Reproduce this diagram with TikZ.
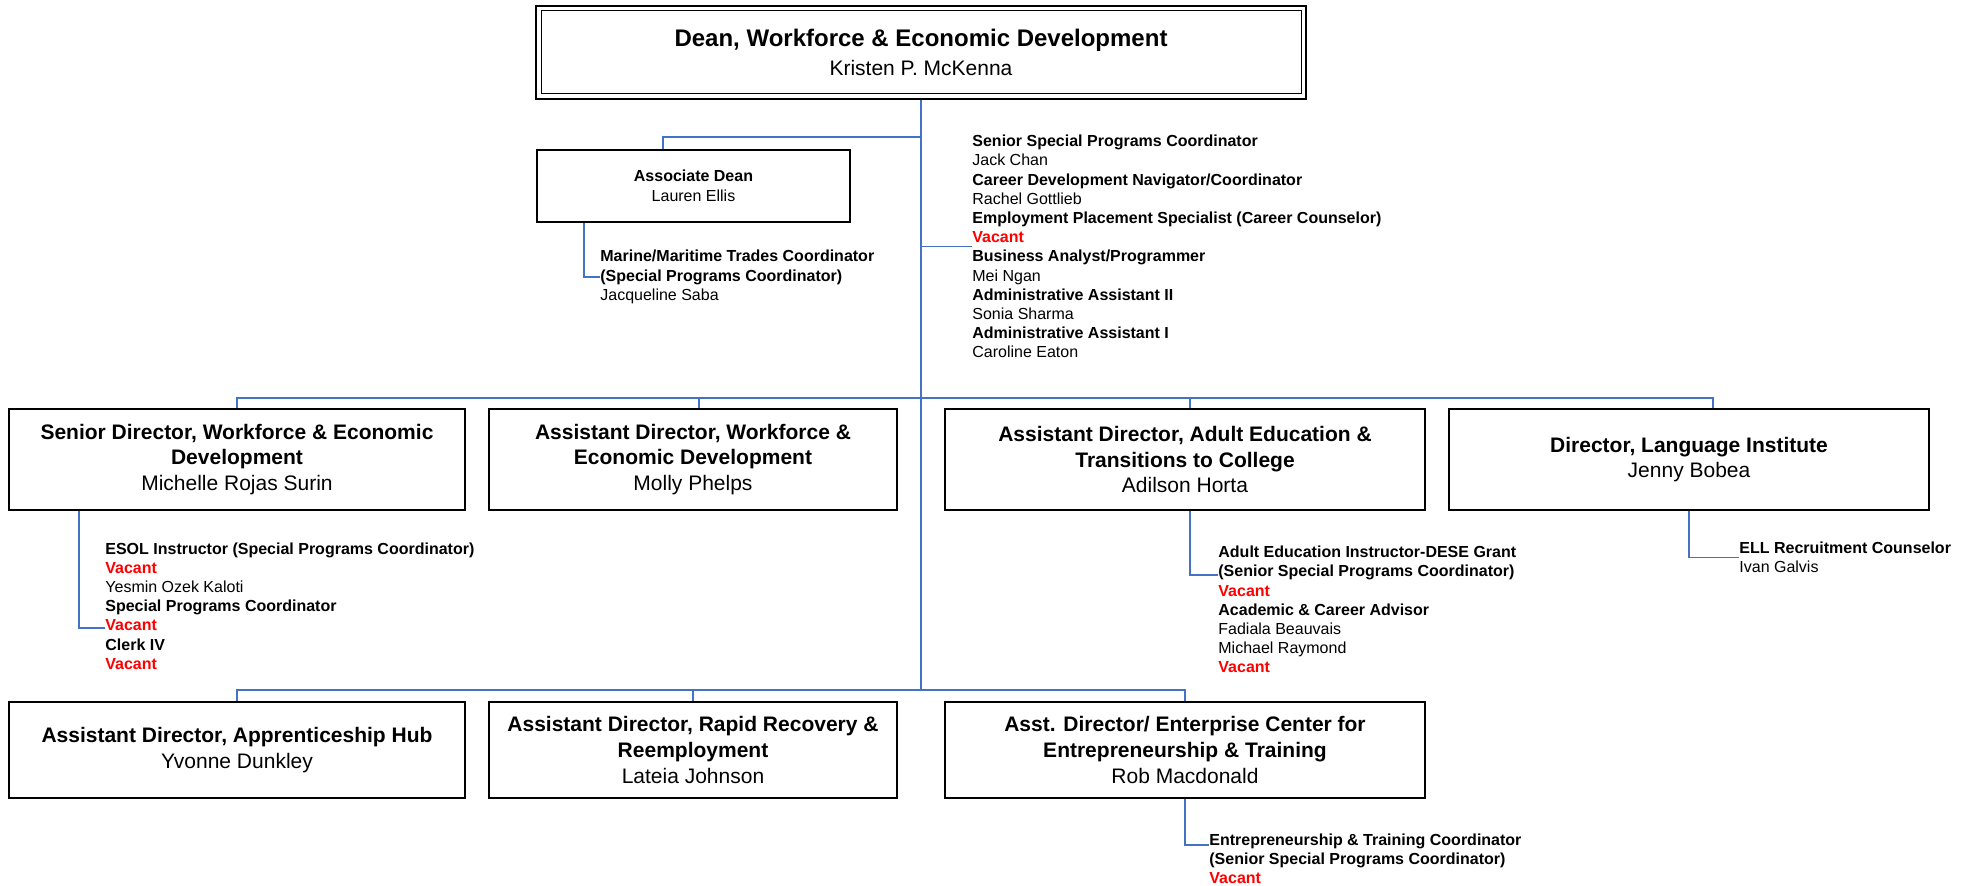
\documentclass[tikz,border=0pt]{standalone}
\usepackage{fontspec}
\setmainfont{Liberation Sans}
\usetikzlibrary{positioning,calc}
\definecolor{linkblue}{RGB}{68,114,196}
\definecolor{vacantred}{RGB}{255,0,0}

\tikzset{
  unitbox/.style={draw, line width=1pt, align=center, inner sep=0pt,
    font=\fontsize{10.5}{12.6}\selectfont},
  stafflist/.style={align=left, inner sep=0pt, anchor=west,
    font=\fontsize{8}{9.6}\selectfont},
  link/.style={linkblue, line width=0.75pt},
}
\newcommand{\vac}{\textcolor{vacantred}{\textbf{Vacant}}}

\begin{document}
\begin{tikzpicture}[x=0.5pt,y=-0.5pt]
  \useasboundingbox (0,0) rectangle (1974,886);

  % dean
  \node[unitbox, minimum width=385pt, minimum height=46.5pt,
    font=\fontsize{10.5}{14.5}\selectfont] (dean) at (921,52.5)
    {{\fontsize{12}{14.5}\selectfont\bfseries Dean, Workforce \& Economic Development}\\Kristen P. McKenna};
  \draw[line width=0.5pt] ($(dean.north west)+(6,6)$) rectangle ($(dean.south east)+(-6,-6)$);

  \node[unitbox, minimum width=156.5pt, minimum height=36pt,
    font=\fontsize{8}{10}\selectfont] (assoc) at (693.5,186) {\textbf{Associate Dean}\\Lauren Ellis};

  \node[stafflist] (marine) at (600,277) {\textbf{Marine/Maritime Trades Coordinator}\\
    \textbf{(Special Programs Coordinator)}\\Jacqueline Saba};

  \node[stafflist] (staff) at (972,246.5) {\textbf{Senior Special Programs Coordinator}\\Jack Chan\\
    \textbf{Career Development Navigator/Coordinator}\\Rachel Gottlieb\\
    \textbf{Employment Placement Specialist (Career Counselor)}\\\vac\\
    \textbf{Business Analyst/Programmer}\\Mei Ngan\\
    \textbf{Administrative Assistant II}\\Sonia Sharma\\
    \textbf{Administrative Assistant I}\\Caroline Eaton};

  % first row
  \node[unitbox, minimum width=228pt, minimum height=50.5pt] (srdir) at (237,459.5)
    {\textbf{Senior Director, Workforce \& Economic}\\\textbf{Development}\\Michelle Rojas Surin};
  \node[unitbox, minimum width=204pt, minimum height=50.5pt] (asstwed) at (693,459.5)
    {\textbf{Assistant Director, Workforce \&}\\\textbf{Economic Development}\\Molly Phelps};
  \node[unitbox, minimum width=240pt, minimum height=50.5pt] (adulted) at (1185,459.5)
    {\textbf{Assistant Director, Adult Education \&}\\\textbf{Transitions to College}\\Adilson Horta};
  \node[unitbox, minimum width=240pt, minimum height=50.5pt] (langinst) at (1689,459.5)
    {\textbf{Director, Language Institute}\\Jenny Bobea};

  \node[stafflist] (esol) at (105,606) {\textbf{ESOL Instructor (Special Programs Coordinator)}\\\vac\\
    Yesmin Ozek Kaloti\\\textbf{Special Programs Coordinator}\\\vac\\\textbf{Clerk IV}\\\vac};
  \node[stafflist] (adultstaff) at (1218,609.5) {\textbf{Adult Education Instructor-DESE Grant}\\
    \textbf{(Senior Special Programs Coordinator)}\\\vac\\\textbf{Academic \& Career Advisor}\\
    Fadiala Beauvais\\Michael Raymond\\\vac};
  \node[stafflist] (ell) at (1739,557.5) {\textbf{ELL Recruitment Counselor}\\Ivan Galvis};

  % second row
  \node[unitbox, minimum width=228pt, minimum height=48pt, font=\fontsize{10.5}{13}\selectfont] (apprent) at (237,750)
    {\textbf{Assistant Director, Apprenticeship Hub}\\Yvonne Dunkley};
  \node[unitbox, minimum width=204pt, minimum height=48pt, font=\fontsize{10.5}{13}\selectfont] (rapid) at (693,750)
    {\textbf{Assistant Director, Rapid Recovery \&}\\\textbf{Reemployment}\\Lateia Johnson};
  \node[unitbox, minimum width=240pt, minimum height=48pt, font=\fontsize{10.5}{13}\selectfont] (ecet) at (1185,750)
    {\textbf{Asst. Director/ Enterprise Center for}\\\textbf{Entrepreneurship \& Training}\\Rob Macdonald};

  \node[stafflist] (etc) at (1209,859) {\textbf{Entrepreneurship \& Training Coordinator}\\
    \textbf{(Senior Special Programs Coordinator)}\\\vac};

  % connectors
  \coordinate (assocjoin) at (921,137);
  \coordinate (bar1) at (921,398);
  \coordinate (bar2) at (921,690);
  \draw[link] (dean.south) -- (bar2);
  \draw[link] (assocjoin) -| ($(assoc.north)+(-30.5,0)$);
  \draw[link] ($(assoc.south)+(-109.5,0)$) |- (marine.west);
  \draw[link] (staff.west -| dean.south) -- (staff.west);

  \draw[link] (srdir.north) |- (bar1) -| ($(langinst.north)+(24,0)$);
  \draw[link] ($(asstwed.north)+(6,0)$) -- ++(0,-11);
  \draw[link] ($(adulted.north)+(5,0)$) -- ++(0,-11);
  \draw[link] ($(srdir.south west)+(71,0)$) |- ($(esol.west)+(0,22)$);
  \draw[link] ($(adulted.south)+(5,0)$) |- ($(adultstaff.west)+(0,-34.5)$);
  \draw[link] (langinst.south) |- (ell.west);

  \draw[link] (apprent.north) |- (bar2) -| (ecet.north);
  \draw[link] (rapid.north) -- (rapid.north |- bar2);
  \draw[link] (ecet.south) |- ($(etc.west)+(0,-14)$);
\end{tikzpicture}
\end{document}
